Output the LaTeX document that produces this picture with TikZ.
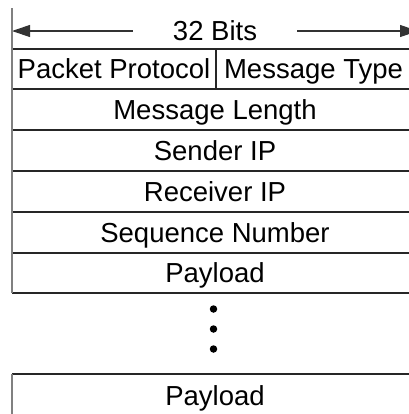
\documentclass[tikz,border=0pt]{standalone}
\usepackage{fontspec}
\setmainfont{Liberation Sans}
\usetikzlibrary{arrows.meta}
\begin{document}
\begin{tikzpicture}[x=1bp,y=-1bp,
  lbl/.style={font=\fontsize{27.5bp}{31bp}\selectfont, inner sep=0pt, text height=19.5bp, text depth=0pt, anchor=center},
  rulel/.style={line width=1.1bp, black!85},
  edgel/.style={line width=1.5bp, black!50},
  dimarrow/.style={line width=1.1bp, black!80, -{Triangle[length=18bp,width=12bp]}},
  dotn/.style={circle, fill=black, inner sep=0pt, minimum size=7.5bp}]
\useasboundingbox (0,0) rectangle (409,414);
\clip (0,0) rectangle (409,414);
% dimension arrow
\coordinate (aL) at (12,31);
\coordinate (aR) at (418,31);
\node[lbl, inner xsep=40bp] (bits) at (215,31) {32 Bits};
\draw[dimarrow] (bits.west |- aL) -- (aL);
\draw[dimarrow] (bits.east |- aR) -- (aR);
% rows
\foreach \yy in {49,89,130,171,212,253,293,374}
  \draw[rulel] (12,\yy) -- (425,\yy);
\draw[rulel] (216,49) -- (216,89);
\draw[edgel] (12,8) -- (12,293);
\draw[edgel] (12,374) -- (12,420);
% labels
\node[lbl] (pp) at (114,69) {Packet Protocol};
\node[lbl] (mt) at (313.5,69) {Message Type};
\node[lbl] (ml) at (215,109.5) {Message Length};
\node[lbl] (sip) at (215,150.5) {Sender IP};
\node[lbl] (rip) at (215,191.5) {Receiver IP};
\node[lbl] (sn) at (215,232.5) {Sequence Number};
\node[lbl] (pl1) at (215,273) {Payload};
\node[lbl] (pl2) at (215,395.5) {Payload};
% ellipsis dots
\node[dotn] (d1) at (213.5,309) {};
\node[dotn] (d2) at (213.5,329) {};
\node[dotn] (d3) at (213.5,349) {};
\end{tikzpicture}
\end{document}
